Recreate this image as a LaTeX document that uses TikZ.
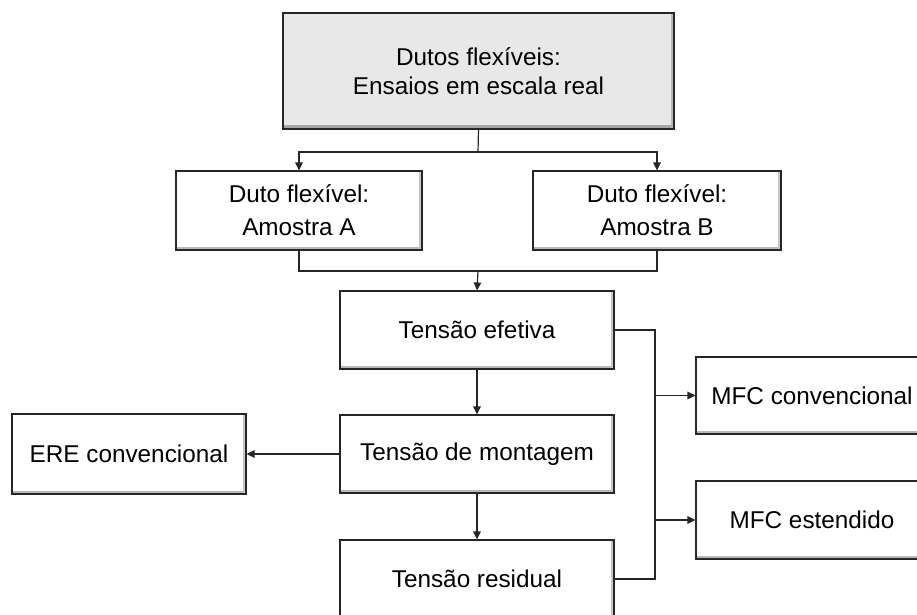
\documentclass[tikz,border=0pt]{standalone}
\usepackage{fontspec}
\setmainfont{Liberation Sans}
\usetikzlibrary{arrows.meta}
\begin{document}
\begin{tikzpicture}[x=1pt,y=-1pt,
  box/.style={draw=black!85, line width=1.1pt, fill=white, inner sep=0pt,
    align=center, font=\fontsize{24.3}{31}\selectfont,
    path picture={
      \fill[black!28] (path picture bounding box.south west) rectangle ([yshift=3.5pt]path picture bounding box.south east);
      \fill[black!22] (path picture bounding box.north east) rectangle ([xshift=-3pt]path picture bounding box.south east);}},
  topbox/.style={box, fill=black!9,
    path picture={
      \fill[black!35] (path picture bounding box.south west) rectangle ([yshift=4pt]path picture bounding box.south east);
      \fill[black!28] (path picture bounding box.north east) rectangle ([xshift=-3pt]path picture bounding box.south east);}},
  conn/.style={draw=black!85, line width=1.2pt},
  arr/.style={conn, -{Triangle[length=8pt,width=7.5pt]}}
]
\useasboundingbox (0,0) rectangle (917,614);
\clip (0,0) rectangle (917,614);

\node[topbox, minimum width=391pt, minimum height=116pt, font=\fontsize{24.3}{29}\selectfont]
  (top) at (478.5,71) {Dutos flexíveis:\\Ensaios em escala real};
\node[box, minimum width=246pt, minimum height=79pt, font=\fontsize{24.3}{33}\selectfont]
  (A) at (299,210.5) {Duto flexível:\\Amostra A};
\node[box, minimum width=248pt, minimum height=79pt, font=\fontsize{24.3}{33}\selectfont]
  (B) at (657,210.5) {Duto flexível:\\Amostra B};
\node[box, minimum width=274pt, minimum height=78pt] (ef) at (477,330) {Tensão efetiva};
\node[box, minimum width=274pt, minimum height=78pt] (mo) at (477,454) {Tensão de montagem};
\node[box, minimum width=274pt, minimum height=78pt] (re) at (477,579) {Tensão residual};
\node[box, minimum width=234pt, minimum height=80pt] (ere) at (129,454) {ERE convencional};
\node[box, minimum width=232pt, minimum height=77pt] (mfc) at (812,395.5) {MFC convencional};
\node[box, minimum width=232pt, minimum height=78pt] (mfe) at (812,520) {MFC estendido};

\coordinate (split) at (478,152);
\coordinate (join) at (478,271);
\coordinate (busT) at (655,330);
\coordinate (bus1) at (655,395.5);
\coordinate (bus2) at (655,520);

% top to samples
\draw[conn] (top.south) -- (split);
\draw[arr] (split) -| (A.north);
\draw[arr] (split) -| (B.north);
% samples to effective stress
\draw[conn] (A.south) |- (join) -| (B.south);
\draw[arr] (join) -- (ef.north);
% chain
\draw[arr] (ef) -- (mo);
\draw[arr] (mo) -- (re);
\draw[arr] (mo) -- (ere);
% bus to MFC
\draw[conn] (ef.east) -- (busT) |- (re.east);
\draw[arr] (bus1) -- (mfc.west);
\draw[arr] (bus2) -- (mfe.west);
\end{tikzpicture}
\end{document}
